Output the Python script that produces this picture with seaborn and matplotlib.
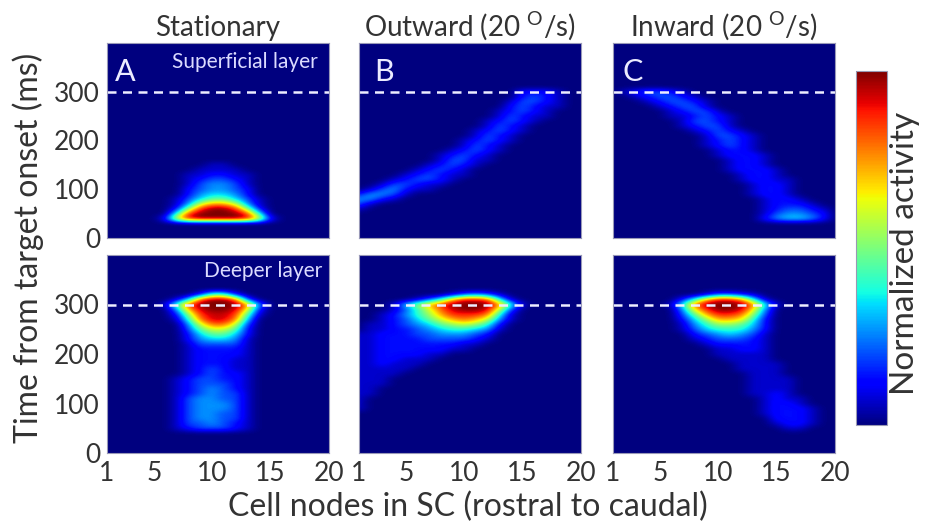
import numpy as np
import matplotlib
matplotlib.use("Agg")
import matplotlib.pyplot as plt
import seaborn as sns

# grid of the simulated field: 20 cell nodes, one row every 10 ms (top row = 400 ms)
nodes = list(range(1, 21))
times = list(range(400, -1, -10))

# activity per row, one hex digit per node (0 = none, F = max)
ZERO = "00000 00000 00000 00000"

stationary_superficial = [ZERO] * 25 + [
    "00000 00001 10000 00000",  # 150
    "00000 00011 11000 00000",
    "00000 00112 21100 00000",
    "00000 00123 32100 00000",
    "00000 00134 43100 00000",
    "00000 00234 43200 00000",  # 100
    "00000 00245 54200 00000",
    "00000 01357 75310 00000",
    "00000 0149B B9410 00000",
    "00000 028DF FD820 00000",
    "00000 06DFF FFD60 00000",  # 50
    "00000 2AEFF FFEA2 00000",  # 40
] + [ZERO] * 4

outward_superficial = [ZERO] * 10 + [
    "00000 00000 00002 22100",  # 300
    "00000 00000 00002 32100",
    "00000 00000 00013 32100",
    "00000 00000 00023 21100",
    "00000 00000 00123 21000",
    "00000 00000 00132 11000",  # 250
    "00000 00000 01232 10000",
    "00000 00000 01321 00000",
    "00000 00000 12321 00000",
    "00000 00000 13210 00000",
    "00000 00001 23210 00000",  # 200
    "00000 00001 32100 00000",
    "00000 00012 32100 00000",
    "00000 00123 21000 00000",
    "00000 00133 11000 00000",
    "00000 01232 10000 00000",  # 150
    "00000 12321 00000 00000",
    "00001 23211 00000 00000",
    "00012 33210 00000 00000",
    "00133 21100 00000 00000",
    "01342 11000 00000 00000",  # 100
    "24431 00000 00000 00000",
    "44210 00000 00000 00000",
    "31000 00000 00000 00000",
    "10000 00000 00000 00000",  # 60
] + [ZERO] * 6

inward_superficial = [ZERO] * 10 + [
    "01233 21000 00000 00000",  # 300
    "00123 32100 00000 00000",
    "00012 33210 00000 00000",
    "00001 23310 00000 00000",
    "00000 12331 00000 00000",
    "00000 11232 10000 00000",  # 250
    "00000 01332 10000 00000",
    "00000 01233 10000 00000",
    "00000 00123 21000 00000",
    "00000 00013 32100 00000",
    "00000 00012 32100 00000",  # 200
    "00000 00012 32100 00000",
    "00000 00001 22100 00000",
    "00000 00001 22210 00000",
    "00000 00000 12210 00000",
    "00000 00000 12210 00000",  # 150
    "00000 00000 12221 00000",
    "00000 00000 01221 00000",
    "00000 00000 01221 10000",
    "00000 00000 00122 10000",
    "00000 00000 00122 10000",  # 100
    "00000 00000 00122 10000",
    "00000 00000 00012 21000",
    "00000 00000 00012 22100",
    "00000 00000 00012 33210",
    "00000 00000 00013 44320",  # 50
    "00000 00000 00024 55420",  # 40
] + [ZERO] * 4

stationary_deeper = [ZERO] * 8 + [
    "00000 00027 72000 00000",  # 320
    "00000 015DF FD300 00000",
    "00000 17DFF FFC40 00000",  # 300
    "00000 04BEF FEA20 00000",
    "00000 028DE ED710 00000",
    "00000 016CE EC500 00000",
    "00000 0049C C9300 00000",
    "00000 00379 97200 00000",  # 250
    "00000 00257 75200 00000",
    "00000 00245 54100 00000",
    "00000 00133 33100 00000",
    "00000 00122 22100 00000",
    "00000 00122 22100 00000",  # 200
    "00000 00122 21100 00000",
    "00000 00122 21100 00000",
    "00000 00123 21100 00000",
    "00000 00123 22100 00000",
    "00000 01233 22100 00000",  # 150
    "00000 01233 32100 00000",
    "00000 01234 32100 00000",
    "00000 01234 33100 00000",
    "00000 01344 33100 00000",
    "00000 01344 43100 00000",  # 100
    "00000 01344 43100 00000",
    "00000 01344 33100 00000",
    "00000 01344 33100 00000",
    "00000 01334 32100 00000",
    "00000 01233 32100 00000",  # 50
] + [ZERO] * 5

outward_deeper = [ZERO] * 8 + [
    "00000 00013 43100 00000",  # 320
    "00000 136BE ED610 00000",
    "00015 8BDFF FFC61 00000",  # 300
    "00013 69CEF FE930 00000",
    "00124 68BDD DC610 00000",
    "00123 579BC B9410 00000",
    "01123 45789 86200 00000",
    "01122 34566 54100 00000",  # 250
    "11222 33444 32000 00000",
    "11222 23333 21000 00000",
    "11222 22221 10000 00000",
    "11222 22211 00000 00000",
    "11222 21100 00000 00000",  # 200
    "11221 11000 00000 00000",
    "11211 10000 00000 00000",
    "11111 00000 00000 00000",
    "11110 00000 00000 00000",
    "11100 00000 00000 00000",  # 150
    "11100 00000 00000 00000",
    "11000 00000 00000 00000",
    "11000 00000 00000 00000",
    "10000 00000 00000 00000",
    "10000 00000 00000 00000",  # 100
    "10000 00000 00000 00000",  # 90
] + [ZERO] * 9

inward_deeper = [ZERO] * 8 + [
    "00000 00013 32100 00000",  # 320
    "00000 026BE EC610 00000",
    "00000 16CFF FFC61 00000",  # 300
    "00000 04ADF FEA40 00000",
    "00000 037BD DC830 00000",
    "00000 0258B BA620 00000",
    "00000 01468 87520 00000",
    "00000 01356 66420 00000",  # 250
    "00000 00234 54310 00000",
    "00000 00123 33210 00000",
    "00000 00012 22210 00000",
    "00000 00001 12210 00000",
    "00000 00001 11110 00000",  # 200
    "00000 00000 11110 00000",
    "00000 00000 01111 00000",
    "00000 00000 01111 00000",
    "00000 00000 00111 00000",
    "00000 00000 00111 10000",  # 150
    "00000 00000 00111 10000",
    "00000 00000 00111 10000",
    "00000 00000 00112 10000",
    "00000 00000 00012 11000",
    "00000 00000 00012 21000",  # 100
    "00000 00000 00012 22100",
    "00000 00000 00012 22100",
    "00000 00000 00002 22100",
    "00000 00000 00001 22100",
    "00000 00000 00000 11000",  # 50
] + [ZERO] * 5

titles = ["Stationary", r"Outward (20 $^{\mathrm{O}}$/s)", r"Inward (20 $^{\mathrm{O}}$/s)"]
panel_letters = ["A", "B", "C"]
yticks = [0, 100, 200, 300]
xticks = [1, 5, 10, 15, 20]
onset_line = 300


def to_grid(rows):
    grid = []
    for r in rows:
        r = r.replace(" ", "")
        if len(r) != len(nodes):
            raise ValueError(r)
        grid.append([int(c, 16) / 15 for c in r])
    if len(grid) != len(times):
        raise ValueError(len(grid))
    return np.array(grid)[::-1]


sns.set_theme(style="white")
plt.rcParams['font.family'] = ['Lato', 'DejaVu Sans']
plt.rcParams['mathtext.fontset'] = 'custom'
plt.rcParams['mathtext.rm'] = 'Lato'
plt.rcParams['mathtext.it'] = 'Lato:italic'
plt.rcParams['mathtext.bf'] = 'Lato:bold'
text_col = '#333333'
cmap = matplotlib.colormaps['jet']

fig = plt.figure(figsize=(9.26, 5.27), dpi=100)
lefts = [107 / 926, 359 / 926, 613 / 926]
w = 222 / 926
rows_pos = [(1 - 238 / 527, 195 / 527), (1 - 453 / 527, 198 / 527)]
panels = [[stationary_superficial, outward_superficial, inward_superficial],
          [stationary_deeper, outward_deeper, inward_deeper]]
letter_x = [0.035, 0.07, 0.045]
dx = (nodes[1] - nodes[0]) / 2
dt = abs(times[1] - times[0]) / 2
extent = [nodes[0] - dx, nodes[-1] + dx, min(times) - dt, max(times) + dt]

for i in range(2):
    for j in range(3):
        ax = fig.add_axes([lefts[j], rows_pos[i][0], w, rows_pos[i][1]])
        img = ax.imshow(to_grid(panels[i][j]), origin='lower', extent=extent, aspect='auto',
                        interpolation='bicubic', interpolation_stage='data',
                        cmap=cmap, vmin=0, vmax=1)
        ax.axhline(onset_line, color=(0.93, 0.93, 1.0), lw=1.8, ls=(0, (3.6, 2.6)))
        ax.set_xlim(1, 20)
        ax.set_ylim(0, 400)
        ax.set_xticks(xticks)
        ax.set_yticks(yticks)
        ax.tick_params(direction='in', length=3, width=0.8, color=(0.55, 0.55, 0.7),
                       labelsize=19, labelcolor=text_col, pad=5)
        ax.tick_params(axis='x', pad=6)
        if i == 0:
            ax.tick_params(labelbottom=False)
            ax.set_title(titles[j], fontsize=20, color=text_col, pad=5)
            ax.text(letter_x[j], 0.85, panel_letters[j], transform=ax.transAxes,
                    fontsize=22, color=(0.92, 0.92, 1.0), va='center', ha='left')
        if j > 0:
            ax.tick_params(labelleft=False)
        for s in ax.spines.values():
            s.set_color((0.6, 0.6, 0.72))
            s.set_linewidth(0.8)
        if i == 0 and j == 0:
            ax.text(0.95, 0.905, "Superficial layer", transform=ax.transAxes, fontsize=15,
                    color=(0.86, 0.86, 1.0), ha='right', va='center')
        if i == 1 and j == 0:
            ax.text(0.97, 0.92, "Deeper layer", transform=ax.transAxes, fontsize=15,
                    color=(0.86, 0.86, 1.0), ha='right', va='center')

cax = fig.add_axes([856 / 926, 1 - 425 / 527, 31 / 926, 354 / 527])
cbar = fig.colorbar(img, cax=cax, ticks=[0.25, 0.5, 0.75])
cbar.ax.tick_params(direction='in', length=3, width=0.8, color='#333333', labelright=False)
cbar.outline.set_edgecolor((0.6, 0.6, 0.7))
cbar.outline.set_linewidth(0.8)

fig.text(0.977, 0.52, "Normalized activity", rotation=90, fontsize=24, color=text_col,
         ha='center', va='center')
fig.text(0.030, 0.529, "Time from target onset (ms)", rotation=90, fontsize=23,
         color=text_col, ha='center', va='center')
fig.text(0.505, 0.038, "Cell nodes in SC (rostral to caudal)", fontsize=23,
         color=text_col, ha='center', va='center')

fig.savefig("out.png", dpi=100)
